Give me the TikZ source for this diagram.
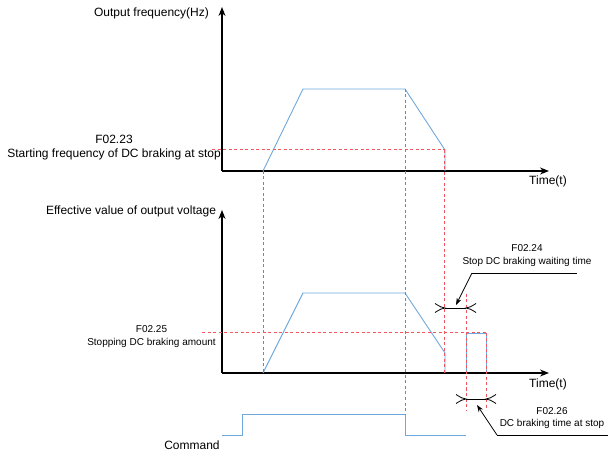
\documentclass[tikz,border=0pt]{standalone}
\usepackage{fontspec}
\setmainfont{Liberation Sans}
\usepackage{tikz}
\usetikzlibrary{arrows.meta,positioning}
\definecolor{Wave}{HTML}{6FA8DC}
\definecolor{Guide}{HTML}{F2555F}
\tikzset{
  axisline/.style={-{Stealth[length=9pt,width=7pt]}, line width=1.1pt, draw=black},
  wave/.style={draw=Wave, line width=0.9pt},
  guide/.style={draw=Guide, line width=1pt, dash pattern=on 3pt off 2.5pt},
  dimline/.style={draw=black, line width=0.8pt},
  leader/.style={-{Stealth[length=7pt,width=5pt]}, draw=black, line width=0.8pt},
  biglabel/.style={font=\fontsize{12}{14}\selectfont, inner sep=0pt, align=center},
  smalllabel/.style={font=\fontsize{10}{12.5}\selectfont, inner sep=0pt, align=center},
  barbin/.pic={\draw[dimline] (-10pt,-4.5pt) .. controls (-4pt,-0.8pt) .. (0,0) .. controls (-4pt,0.8pt) .. (-10pt,4.5pt);}
}

\begin{document}
\begin{tikzpicture}[x=1pt, y=-1pt]
  \useasboundingbox (0,0) rectangle (608,454);

  % upper chart: output frequency
  \coordinate (fO) at (222,171);
  \coordinate (fStart) at (263,171);
  \coordinate (fUp) at (303,89);
  \coordinate (fDown) at (405,89);
  \coordinate (fBrake) at (445,150);
  \coordinate (fEnd) at (445,171);
  \draw[axisline] (fO) -- (222,7);
  \draw[axisline] (fO) -- (549,171);
  \node[biglabel] (freq) at (151.5,13) {Output frequency(Hz)};
  \node[biglabel, anchor=west] (time1) at (529,181) {Time(t)};
  \node[biglabel] (f0223) at (114,148) {F02.23\\Starting frequency of DC braking at stop};

  % lower chart: output voltage
  \coordinate (vO) at (222,373);
  \coordinate (vStart) at (263,373);
  \coordinate (vUp) at (303,293);
  \coordinate (vDown) at (405,293);
  \coordinate (vBrake) at (445,353);
  \coordinate (vEnd) at (445,373);
  \coordinate (pA) at (466,373);
  \coordinate (pB) at (466,333);
  \coordinate (pC) at (486,333);
  \coordinate (pD) at (486,373);
  \draw[axisline] (vO) -- (222,210);
  \draw[axisline] (vO) -- (549,373);
  \node[biglabel] (volt) at (131,211) {Effective value of output voltage};
  \node[biglabel, anchor=west] (time2) at (529,384) {Time(t)};
  \node[smalllabel] (f0225) at (151.5,336.5) {F02.25\\Stopping DC braking amount};

  % command signal
  \coordinate (cA) at (222,435);
  \coordinate (cB) at (242,435);
  \coordinate (cC) at (242,414);
  \coordinate (cD) at (405,414);
  \coordinate (cE) at (405,435);
  \coordinate (cF) at (466,435);
  \node[biglabel] (cmd) at (192,445) {Command};

  % waveforms
  \draw[wave] (fStart) -- (fUp) -- (fDown) -- (fBrake) -- (fEnd);
  \draw[wave] (vStart) -- (vUp) -- (vDown) -- (vBrake) -- (vEnd);
  \draw[wave] (pA) -- (pB) -- (pC) -- (pD);
  \draw[wave] (cA) -- (cB) -- (cC) -- (cD) -- (cE) -- (cF);

  % guide lines
  \draw[guide] (212,150) -- (fBrake);
  \draw[guide] (202,333) -- (pC);
  \draw[guide] (fStart) -- (vStart);
  \draw[guide] (fDown) -- (cD);
  \draw[guide] ([xshift=-1pt]fBrake) -- ([xshift=-1pt]vEnd);
  \draw[guide] (466,294) -- (466,410);
  \draw[guide] (pC) -- (486,410);

  % waiting time
  \coordinate (wL) at (445,308);
  \coordinate (wR) at (466,308);
  \draw[dimline] (wL) -- (wR);
  \pic at (wL) {barbin};
  \pic[rotate=180] at (wR) {barbin};
  \node[smalllabel] (f0224) at (527,255.5) {F02.24\\Stop DC braking waiting time};
  \coordinate (kneeW) at (472,273);
  \draw[dimline] (577,273) -- (kneeW);
  \draw[leader] (kneeW) -- (456,305);

  % braking time
  \coordinate (bL) at (466,399);
  \coordinate (bR) at (486,399);
  \draw[dimline] (bL) -- (bR);
  \pic at (bL) {barbin};
  \pic[rotate=180] at (bR) {barbin};
  \node[smalllabel] (f0226) at (552,418) {F02.26\\DC braking time at stop};
  \coordinate (kneeB) at (497,435);
  \draw[dimline] (608,435) -- (kneeB);
  \draw[leader] (kneeB) -- (477,405);
\end{tikzpicture}
\end{document}
